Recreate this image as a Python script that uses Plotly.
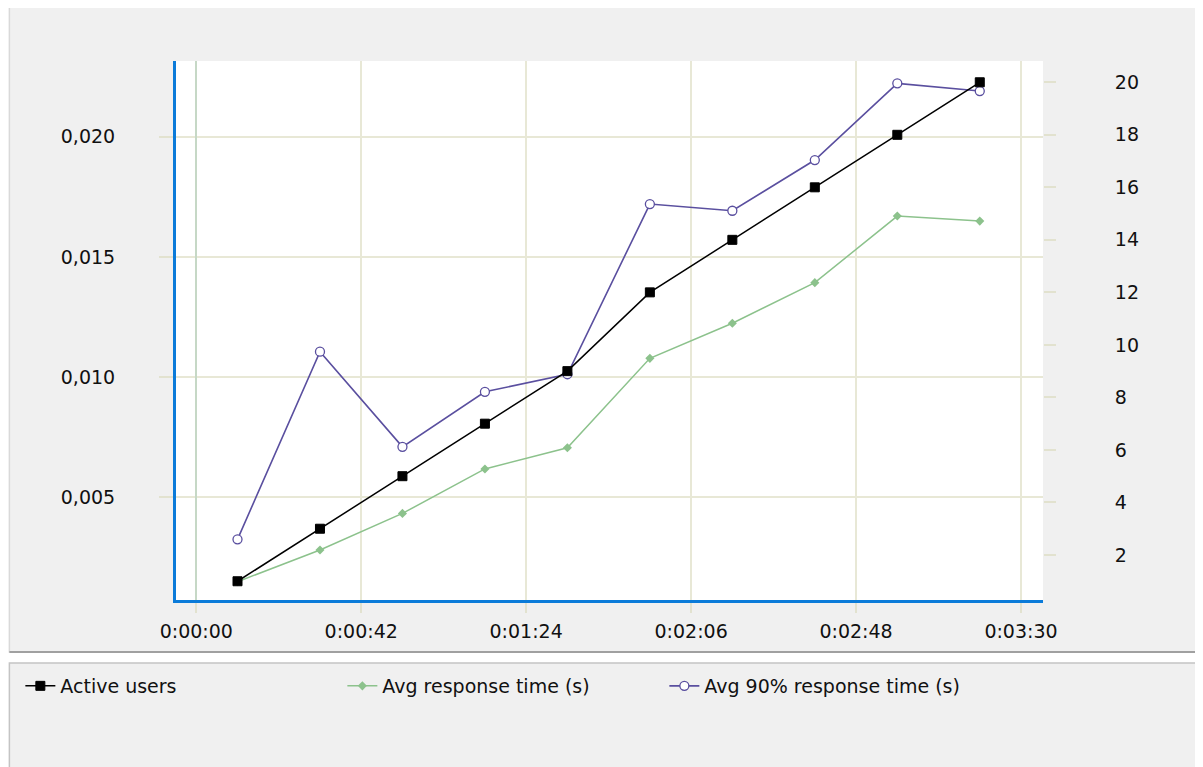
import plotly.graph_objects as go

# ---- data ----
time_s = [10.5, 31.5, 52.5, 73.5, 94.5, 115.5, 136.5, 157.5, 178.5, 199.5]
active_users = [1, 3, 5, 7, 9, 12, 14, 16, 18, 20]
avg_resp = [0.00149, 0.00281, 0.00433, 0.00618, 0.00706, 0.01078, 0.01224, 0.01393, 0.01670, 0.01649]
avg90_resp = [0.00325, 0.01106, 0.00710, 0.00939, 0.01012, 0.01720, 0.01692, 0.01903, 0.02222, 0.02190]
x_tick_vals = [0, 42, 84, 126, 168, 210]
x_tick_text = ["0:00:00", "0:00:42", "0:01:24", "0:02:06", "0:02:48", "0:03:30"]

OFF = 8  # page body margin
W, H = 1203 - OFF, 767 - OFF
L, R, T, B = 174 - OFF, 1043 - OFF, 61 - OFF, 600 - OFF
FONT = "DejaVu Sans"
GRID = "#e8e8d6"
TICKC = "#e2e2cf"
BLUE = "#0b7bd9"

def px(x):
    return (x - OFF - L) / (R - L)

def py(y):
    return (B - (y - OFF)) / (B - T)

fig = go.Figure()
fig.add_trace(go.Scatter(
    x=time_s, y=active_users, name="Active users", yaxis="y2",
    mode="lines+markers", line=dict(color="#000000", width=1.5),
    marker=dict(symbol="square", size=9, color="#000000", line=dict(color="#000000", width=1))))
fig.add_trace(go.Scatter(
    x=time_s, y=avg_resp, name="Avg response time (s)", yaxis="y",
    mode="lines+markers", line=dict(color="#8cc28c", width=1.5),
    marker=dict(symbol="diamond", size=7, color="#8cc28c", line=dict(width=0))))
fig.add_trace(go.Scatter(
    x=time_s, y=avg90_resp, name="Avg 90% response time (s)", yaxis="y",
    mode="lines+markers", line=dict(color="#5a4f9f", width=1.6),
    marker=dict(symbol="circle", size=9, color="#ffffff", line=dict(color="#5a4f9f", width=1.3))))

shapes = [
    # upper panel
    dict(type="rect", xref="paper", yref="paper", x0=px(7), x1=px(1199), y0=py(7), y1=py(652),
         fillcolor="#f0f0f0", line=dict(color="#d9d9d9", width=1.5), layer="below"),
    dict(type="line", xref="paper", yref="paper", x0=px(1199), x1=px(1199), y0=py(7), y1=py(653),
         line=dict(color="#a0a0a0", width=2), layer="below"),
    dict(type="line", xref="paper", yref="paper", x0=px(7), x1=px(1200), y0=py(652), y1=py(652),
         line=dict(color="#a0a0a0", width=2), layer="below"),
    # white plotting area
    dict(type="rect", xref="paper", yref="paper", x0=0, x1=1, y0=0, y1=1,
         fillcolor="#ffffff", line=dict(width=0), layer="below"),
    # legend panel
    dict(type="rect", xref="paper", yref="paper", x0=px(7), x1=px(1198), y0=py(663), y1=py(780),
         fillcolor="#f0f0f0", line=dict(color="#c4c4c4", width=1.5), layer="below"),
]

fig.update_layout(
    width=W, height=H,
    margin=dict(l=L, r=W - R, t=T, b=H - B, pad=0),
    paper_bgcolor="#ffffff", plot_bgcolor="#ffffff",
    separators=", ",
    font=dict(family=FONT, size=19, color="#111111"),
    shapes=shapes,
    showlegend=True,
    legend=dict(orientation="h", x=px(18), y=py(667), xanchor="left", yanchor="top",
                bgcolor="rgba(0,0,0,0)", borderwidth=0,
                entrywidth=277, entrywidthmode="pixels",
                font=dict(family=FONT, size=19, color="#111111")),
    xaxis=dict(range=[-5.16, 215.6], tickmode="array", tickvals=x_tick_vals, ticktext=x_tick_text,
               showgrid=True, gridcolor=GRID, gridwidth=2,
               zeroline=True, zerolinecolor="#c6d8c6", zerolinewidth=2,
               showline=True, linecolor=BLUE, linewidth=3,
               ticks="outside", ticklen=10, tickwidth=2, tickcolor=TICKC,
               ticklabelstandoff=2, fixedrange=True),
    yaxis=dict(range=[0.000728, 0.02315], tick0=0, dtick=0.005, tickformat=".3f",
               showgrid=True, gridcolor=GRID, gridwidth=2, zeroline=False,
               showline=True, linecolor=BLUE, linewidth=3,
               ticks="outside", ticklen=14, tickwidth=2, tickcolor=TICKC,
               ticklabelstandoff=40, fixedrange=True),
    yaxis2=dict(range=[0.286, 20.81], tick0=0, dtick=2, overlaying="y", side="right",
                showgrid=False, zeroline=False, showline=False,
                ticks="outside", ticklen=12, tickwidth=2, tickcolor=TICKC,
                ticklabelstandoff=55, fixedrange=True),
)

fig.write_html("out.html")
